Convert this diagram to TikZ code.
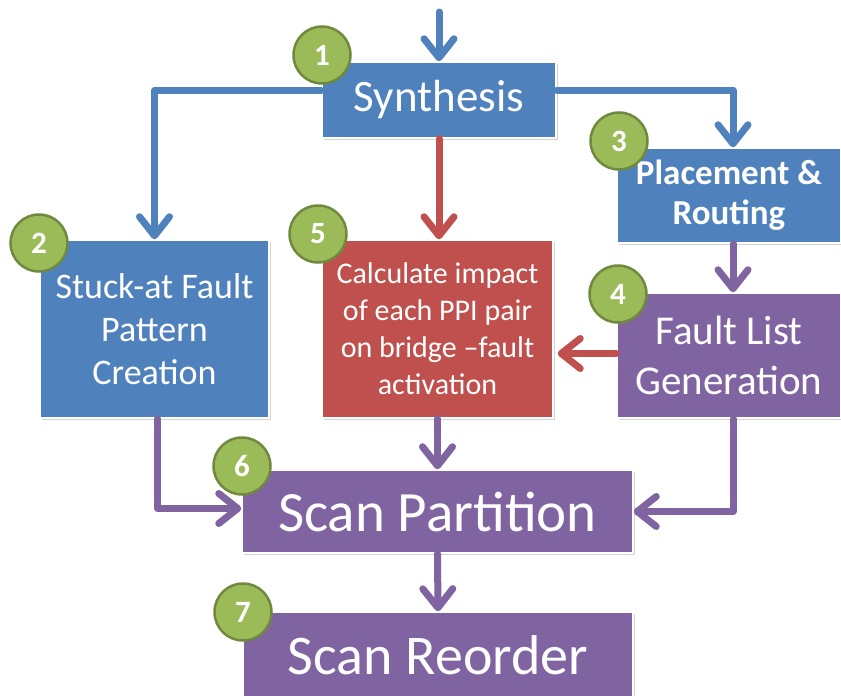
\documentclass[tikz,border=0pt]{standalone}
\usepackage{fontspec}
\setmainfont{Carlito}
\usepackage{tikz}
\usetikzlibrary{arrows.meta,shadows}
\definecolor{azul}{HTML}{4F81BD}
\definecolor{rojo}{HTML}{C0504D}
\definecolor{morado}{HTML}{8064A2}
\definecolor{verde}{HTML}{9BBB59}
\definecolor{verdeosc}{HTML}{71893F}
\tikzstyle{caja}=[rectangle, draw=white, line width=1.5pt, text=white, align=center, inner sep=0pt, drop shadow={opacity=0.35, shadow xshift=1.5pt, shadow yshift=-2pt}]
\tikzstyle{num}=[circle, draw=verdeosc, line width=2.5pt, fill=verde, text=white, minimum size=57pt, inner sep=0pt, font=\fontsize{31}{31}\selectfont\bfseries]
\tikzstyle{flecha}=[line width=7pt, line join=round, line cap=round, -{Straight Barb[length=19pt,width=30pt,round]}]

\begin{document}
\begin{tikzpicture}[x=1pt,y=-1pt]
            \useasboundingbox (0,0) rectangle (841,696);
            \clip (0,0) rectangle (841,696);
            % Cajas
            \node[caja, fill=azul, minimum width=234pt, minimum height=76pt, font=\fontsize{45}{50}\selectfont] (synth) at (439,100) {Synthesis};
            \node[caja, fill=azul, minimum width=224pt, minimum height=95pt, font=\fontsize{35}{40}\selectfont\bfseries] (place) at (729,195.5) {Placement \&\\Routing};
            \node[caja, fill=azul, minimum width=229pt, minimum height=178pt, font=\fontsize{36}{43}\selectfont] (stuck) at (154.5,329) {Stuck-at Fault\\Pattern\\Creation};
            \node[caja, fill=rojo, minimum width=231pt, minimum height=178pt, font=\fontsize{30}{37}\selectfont] (calc) at (437.5,329) {Calculate impact\\of each PPI pair\\on bridge --fault\\activation};
            \node[caja, fill=morado, minimum width=224pt, minimum height=125pt, font=\fontsize{41}{50}\selectfont] (fault) at (729,355.5) {Fault List\\Generation};
            \node[caja, fill=morado, minimum width=391pt, minimum height=83pt, font=\fontsize{57}{60}\selectfont] (part) at (437.5,511.5) {Scan Partition};
            \node[caja, fill=morado, minimum width=390pt, minimum height=86pt, font=\fontsize{56}{60}\selectfont] (reord) at (438,655) {Scan Reorder};
            \coordinate (inicio) at (439,12);
            % Flechas
            \draw[flecha, azul] (inicio) -- (synth.north);
            \draw[flecha, azul] ([yshift=10pt]synth.west) -| (stuck.north);
            \draw[flecha, azul] ([yshift=10pt]synth.east) -| ([xshift=4pt]place.north);
            \draw[flecha, rojo] (synth.south) -- (synth.south |- calc.north);
            \draw[flecha, morado] ([xshift=4pt]place.south) -- ([xshift=4pt]fault.north);
            \draw[flecha, rojo, shorten >=4pt] ([yshift=2pt]fault.west) -- ([yshift=2pt]fault.west -| calc.east);
            \draw[flecha, morado] ([xshift=3pt]stuck.south) |- ([yshift=3pt]part.west);
            \draw[flecha, morado] (calc.south) -- (part.north);
            \draw[flecha, morado] ([xshift=4pt]fault.south) |- (part.east);
            \draw[flecha, morado] (part.south) -- (reord.north);
            % Numeros
            \node[num] (n1) at (322,55) {1};
            \node[num] (n2) at (39,243) {2};
            \node[num] (n3) at (619,141) {3};
            \node[num] (n4) at (618,294) {4};
            \node[num] (n5) at (318,234) {5};
            \node[num] (n6) at (242,466) {6};
            \node[num] (n7) at (243,612) {7};
        \end{tikzpicture}
\end{document}
